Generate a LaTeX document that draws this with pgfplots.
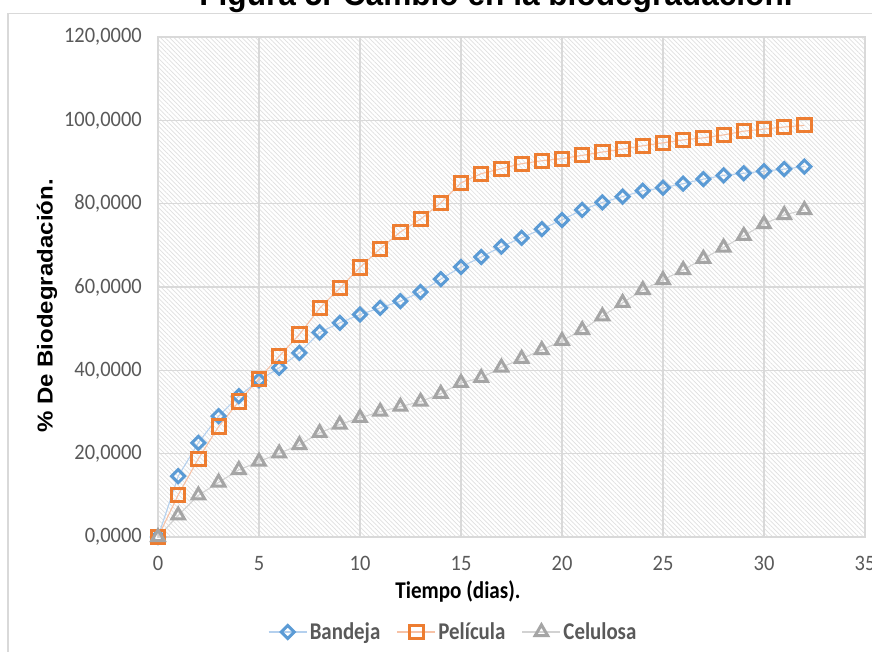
\documentclass[border=0pt]{standalone}
\usepackage{fontspec}
\usepackage{graphicx}
\usepackage{pgfplots}
\pgfplotsset{compat=1.18}
\usetikzlibrary{patterns.meta}
\setmainfont{Carlito}
\newfontfamily\tickfont{Carlito}[FakeStretch=0.93]
\newfontfamily\labfont{Carlito}[FakeStretch=0.88]
\newfontfamily\legfont{Carlito}[FakeStretch=0.87]
\newfontfamily\arialfont{Liberation Sans}[FakeStretch=0.93]
\newfontfamily\ylabfont{Liberation Sans}
\definecolor{cblue}{HTML}{5B9BD5}
\definecolor{corange}{HTML}{ED7D31}
\definecolor{cgray}{HTML}{A5A5A5}
\definecolor{lblue}{HTML}{B4D0EE}
\definecolor{lorange}{HTML}{F7C2A6}
\definecolor{lgray}{HTML}{D2D2D2}
\definecolor{gridc}{HTML}{D9D9D9}
\definecolor{txtgray}{HTML}{595959}
\definecolor{hatchc}{HTML}{E0E0E0}
\begin{document}
\begin{tikzpicture}
\path[use as bounding box] (0,0) rectangle (872pt,651pt);
\clip (0,0) rectangle (872pt,651pt);
\node[font=\arialfont\bfseries\fontsize{34}{38}\selectfont, anchor=base] at (496pt,645pt) {Figura 5. Cambio en la biodegradación.};
\draw[gridc, line width=1.6pt, fill=white] (8pt,637.5pt) rectangle (900pt,-30pt);
\begin{axis}[
  at={(158pt,114pt)}, anchor=south west,
  width=707pt, height=500pt, scale only axis,
  xmin=0, xmax=35, ymin=0, ymax=120,
  xtick={0,5,...,35}, ytick={0,20,...,120},
  axis background/.style={pattern={Lines[angle=-45,distance=3.2pt,line width=0.7pt]}, pattern color=hatchc},
  grid=major, major grid style={gridc, line width=1.3pt},
  axis line style={gridc, line width=1.3pt},
  tick style={draw=none},
  yticklabel style={font=\tickfont\fontsize{22}{25}\selectfont, text=txtgray, anchor=east, inner sep=0pt, xshift=-16pt,
    /pgf/number format/fixed, /pgf/number format/fixed zerofill, /pgf/number format/precision=4, /pgf/number format/use comma, /pgf/number format/assume math mode=true},
  xticklabel style={font=\tickfont\fontsize{22}{25}\selectfont, text=txtgray, anchor=north, inner sep=0pt, yshift=-19pt, /pgf/number format/assume math mode=true},
  xlabel={Tiempo (dias).},
  xlabel style={font=\labfont\bfseries\fontsize{24}{28}\selectfont, at={(axis description cs:0.4243,0)}, anchor=base, yshift=-61pt},
  ylabel={\scalebox{1}[0.9]{\ylabfont\bfseries\fontsize{24}{28}\selectfont \% De Biodegradación.}},
  ylabel style={at={(axis description cs:-0.157,0.462)}, anchor=center},
  legend style={at={(axis description cs:0.418,-0.19)}, anchor=center, draw=none, fill=none,
    font=\legfont\bfseries\fontsize{24}{27}\selectfont, text=txtgray, legend columns=-1,
    nodes={inner sep=2.5pt},
    /tikz/every even column/.append style={column sep=14pt}},
  legend image code/.code={\draw[mark repeat=2,mark phase=2,#1] plot coordinates {(0pt,0pt) (19pt,0pt) (38pt,0pt)};},
]
\addplot[lblue, line width=1.1pt, mark=square, mark size=4.6pt, mark options={solid, draw=cblue, fill=white, line width=3pt, rotate=45}] coordinates {
(0,0) (1,14.6) (2,22.6) (3,29.0) (4,33.8) (5,37.6) (6,40.6) (7,44.2) (8,49.1) (9,51.4) (10,53.4) (11,55.0) (12,56.6) (13,58.8) (14,61.9) (15,64.8) (16,67.2) (17,69.7) (18,71.8) (19,73.9) (20,76.1) (21,78.5) (22,80.3) (23,81.7) (24,83.1) (25,83.8) (26,84.8) (27,85.9) (28,86.8) (29,87.3) (30,87.8) (31,88.3) (32,88.9)};
\addplot[lorange, line width=1.1pt, mark=square, mark size=6.6pt, mark options={solid, draw=corange, fill=white, line width=3pt}] coordinates {
(0,0) (1,10.1) (2,18.8) (3,26.5) (4,32.5) (5,38.0) (6,43.4) (7,48.6) (8,54.9) (9,59.7) (10,64.7) (11,69.2) (12,73.2) (13,76.3) (14,80.2) (15,85.0) (16,87.2) (17,88.4) (18,89.6) (19,90.3) (20,90.8) (21,91.6) (22,92.4) (23,93.1) (24,93.9) (25,94.6) (26,95.3) (27,95.8) (28,96.5) (29,97.4) (30,97.9) (31,98.4) (32,98.8)};
\addplot[lgray, line width=1.1pt, mark=triangle, mark size=7.2pt, mark options={solid, draw=cgray, fill=white, line width=3pt}] coordinates {
(0,0) (1,5.2) (2,10.0) (3,13.1) (4,16.1) (5,18.1) (6,20.1) (7,22.1) (8,25.0) (9,27.0) (10,28.6) (11,30.1) (12,31.3) (13,32.5) (14,34.4) (15,37.0) (16,38.2) (17,40.7) (18,42.8) (19,44.9) (20,47.1) (21,49.7) (22,53.0) (23,56.2) (24,59.3) (25,61.7) (26,64.1) (27,66.8) (28,69.5) (29,72.3) (30,75.1) (31,77.3) (32,78.5)};
\legend{Bandeja, Película, Celulosa}
\end{axis}
\end{tikzpicture}
\end{document}
